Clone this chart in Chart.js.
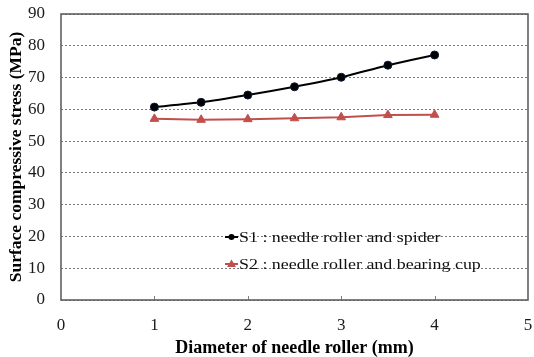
<!DOCTYPE html>
<html>
<head>
<meta charset="utf-8">
<script src="https://cdn.jsdelivr.net/npm/chart.js@4/dist/chart.umd.min.js"></script>
<style>
  html, body { margin: 0; padding: 0; background: #ffffff; }
  #wrap { width: 534px; height: 357px; }
</style>
</head>
<body>
<div id="wrap"><canvas id="c" width="534" height="357"></canvas></div>
<script>
// Needle roller diameter (mm) and surface compressive stress (MPa)
const diameters = [1, 1.5, 2, 2.5, 3, 3.5, 4];
const s1Stress = [60.7, 62.2, 64.5, 67.1, 70.1, 73.9, 77.1];
const s2Stress = [57.0, 56.7, 56.9, 57.2, 57.5, 58.2, 58.3];
const seriesNames = ['S1 : needle roller and spider', 'S2 : needle roller and bearing cup'];
const xTickValues = [0, 1, 2, 3, 4, 5];
const yTickValues = [0, 10, 20, 30, 40, 50, 60, 70, 80, 90];

const SERIF = '"Liberation Serif", "Times New Roman", serif';
const S1_COLOR = '#000000';
const S2_COLOR = '#C0504D';

const toPoints = (xs, ys) => xs.map((x, i) => ({ x: x, y: ys[i] }));

// Frame around the plot area plus small inward ticks on the x axis
const frameAndTicks = {
  id: 'frameAndTicks',
  afterDatasetsDraw(chart) {
    const { ctx, chartArea: a, scales } = chart;
    ctx.save();
    ctx.strokeStyle = '#808080';
    ctx.lineWidth = 1;
    scales.x.ticks.forEach(t => {
      if (t.value <= 0 || t.value >= 5) return;
      const px = Math.round(scales.x.getPixelForValue(t.value)) + 0.5;
      ctx.beginPath();
      ctx.moveTo(px, a.bottom);
      ctx.lineTo(px, a.bottom - 4);
      ctx.stroke();
    });
    ctx.strokeStyle = '#606060';
    ctx.lineWidth = 1.6;
    ctx.strokeRect(a.left, a.top, a.right - a.left, a.bottom - a.top);
    ctx.restore();
  }
};

// Legend drawn inside the plot area, lower middle, with slightly widened lettering
const innerLegend = {
  id: 'innerLegend',
  afterDraw(chart) {
    const { ctx, chartArea: a } = chart;
    const x0 = a.left + 164;
    const rows = [a.top + 223, a.top + 250];
    ctx.save();
    ctx.textBaseline = 'middle';
    ctx.textAlign = 'left';
    chart.data.datasets.forEach((ds, i) => {
      const y = rows[i];
      ctx.strokeStyle = ds.borderColor;
      ctx.lineWidth = 2;
      ctx.beginPath();
      ctx.moveTo(x0, y);
      ctx.lineTo(x0 + 13, y);
      ctx.stroke();
      ctx.fillStyle = ds.pointBackgroundColor;
      if (ds.pointStyle === 'triangle') {
        ctx.beginPath();
        ctx.moveTo(x0 + 6.5, y - 4.5);
        ctx.lineTo(x0 + 11, y + 3);
        ctx.lineTo(x0 + 2, y + 3);
        ctx.closePath();
        ctx.fill();
      } else {
        ctx.beginPath();
        ctx.arc(x0 + 6.5, y, 3, 0, Math.PI * 2);
        ctx.fill();
      }
      ctx.save();
      ctx.translate(x0 + 14, y + 1);
      ctx.scale(1.28, 1);
      ctx.font = '14px ' + SERIF;
      ctx.fillStyle = '#111111';
      ctx.fillText(ds.label, 0, 0);
      ctx.restore();
    });
    ctx.restore();
  }
};

new Chart(document.getElementById('c'), {
  type: 'scatter',
  data: {
    datasets: [
      {
        label: seriesNames[0],
        data: toPoints(diameters, s1Stress),
        showLine: true,
        borderColor: S1_COLOR,
        borderWidth: 2,
        pointStyle: 'circle',
        pointRadius: 4,
        pointBackgroundColor: S1_COLOR,
        pointBorderColor: '#0a1a3a',
        pointBorderWidth: 1,
        tension: 0.15
      },
      {
        label: seriesNames[1],
        data: toPoints(diameters, s2Stress),
        showLine: true,
        borderColor: S2_COLOR,
        borderWidth: 2,
        pointStyle: 'triangle',
        pointRadius: 5,
        pointBackgroundColor: S2_COLOR,
        pointBorderColor: S2_COLOR,
        pointBorderWidth: 1,
        tension: 0
      }
    ]
  },
  options: {
    responsive: false,
    animation: false,
    devicePixelRatio: 1,
    layout: { padding: { left: 0, top: 14, right: 6, bottom: 0 } },
    plugins: {
      legend: { display: false },
      tooltip: { enabled: false }
    },
    scales: {
      x: {
        type: 'linear',
        min: 0,
        max: 5,
        afterBuildTicks: s => { s.ticks = xTickValues.map(v => ({ value: v })); },
        afterFit: s => { s.height = 57; s.paddingLeft = 0; s.paddingRight = 0; },
        ticks: { font: { family: SERIF, size: 17 }, color: '#1a1a1a', padding: 15 },
        grid: { display: false, drawTicks: false },
        border: { display: false },
        title: {
          display: true,
          text: 'Diameter of needle roller (mm)',
          font: { family: SERIF, size: 18, weight: 'bold' },
          color: '#000000',
          padding: { top: 0, bottom: -2 }
        }
      },
      y: {
        type: 'linear',
        min: 0,
        max: 90,
        afterBuildTicks: s => { s.ticks = yTickValues.map(v => ({ value: v })); },
        afterFit: s => { s.width = 61; s.paddingTop = 0; s.paddingBottom = 0; },
        ticks: { font: { family: SERIF, size: 17 }, color: '#1a1a1a', padding: 16 },
        grid: { color: '#7a7a7a', lineWidth: 1, drawTicks: false },
        border: { display: false, dash: [2, 2] },
        title: {
          display: true,
          text: 'Surface compressive stress (MPa)',
          font: { family: SERIF, size: 17.5, weight: 'bold' },
          color: '#000000',
          padding: { top: 6, bottom: 0 }
        }
      }
    }
  },
  plugins: [frameAndTicks, innerLegend]
});
</script>
</body>
</html>
